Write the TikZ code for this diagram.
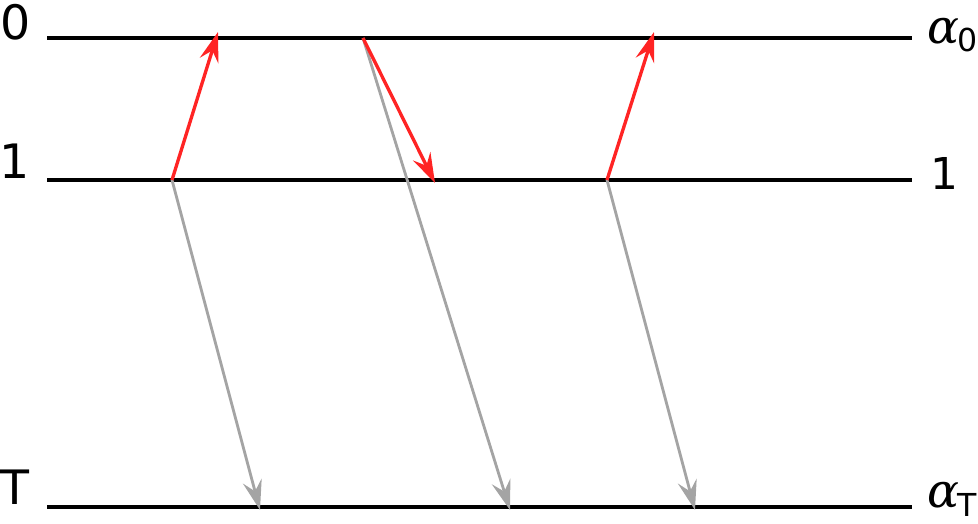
\documentclass[tikz,border=0pt]{standalone}
\usepackage{fontspec}
\setmainfont{DejaVu Sans}
\newfontfamily\greekfont{DejaVu Serif}
\usetikzlibrary{arrows.meta}
\definecolor{jumpred}{HTML}{FF2424}
\definecolor{decaygrey}{HTML}{A4A4A4}
\tikzset{
  level/.style={black, line width=2pt},
  jump/.style={jumpred, line width=1.9pt, -{Stealth[length=17pt, width=11pt, inset=6pt]}},
  decay/.style={decaygrey, line width=1.6pt, -{Stealth[length=17pt, width=11pt, inset=6pt]}},
  lab/.style={font=\fontsize{27}{30}\selectfont, inner sep=0pt},
}
\newcommand{\alphalab}[1]{{\greekfont\itshape\fontsize{27}{30}\selectfont α}\kern-1pt\raisebox{-5pt}{\fontsize{18}{20}\selectfont #1}}
\begin{document}
\begin{tikzpicture}[x=0.02cm, y=-0.02cm]
  \useasboundingbox (0,0) rectangle (978,524);
  % levels
  \foreach \n/\y in {g/38, m/180, t/507}{
    \coordinate (\n L) at (47,\y);
    \coordinate (\n R) at (912,\y);
    \draw[level] (\n L) -- (\n R);
  }
  \node[lab] (l0) at (16,22) {0};
  \node[lab] (l1) at (15,161) {1};
  \node[lab] (lT) at (15,487) {T};
  \node[lab, anchor=west] (r0) at (927,35) {\alphalab{0}};
  \node[lab, font=\fontsize{25}{28}\selectfont] (r1) at (944,173) {1};
  \node[lab, anchor=west] (rT) at (927,499) {\alphalab{T}};
  % transitions
  \coordinate (a1) at (172,180); \coordinate (b1) at (218,32); \coordinate (c1) at (260,510);
  \coordinate (a2) at (363,38);  \coordinate (b2) at (435,183); \coordinate (c2) at (510,510);
  \coordinate (a3) at (607,180); \coordinate (b3) at (654,32); \coordinate (c3) at (695,510);
  \foreach \i in {1,2,3}{
    \draw[decay] (a\i) -- (c\i);
    \draw[jump] (a\i) -- (b\i);
  }
\end{tikzpicture}
\end{document}
